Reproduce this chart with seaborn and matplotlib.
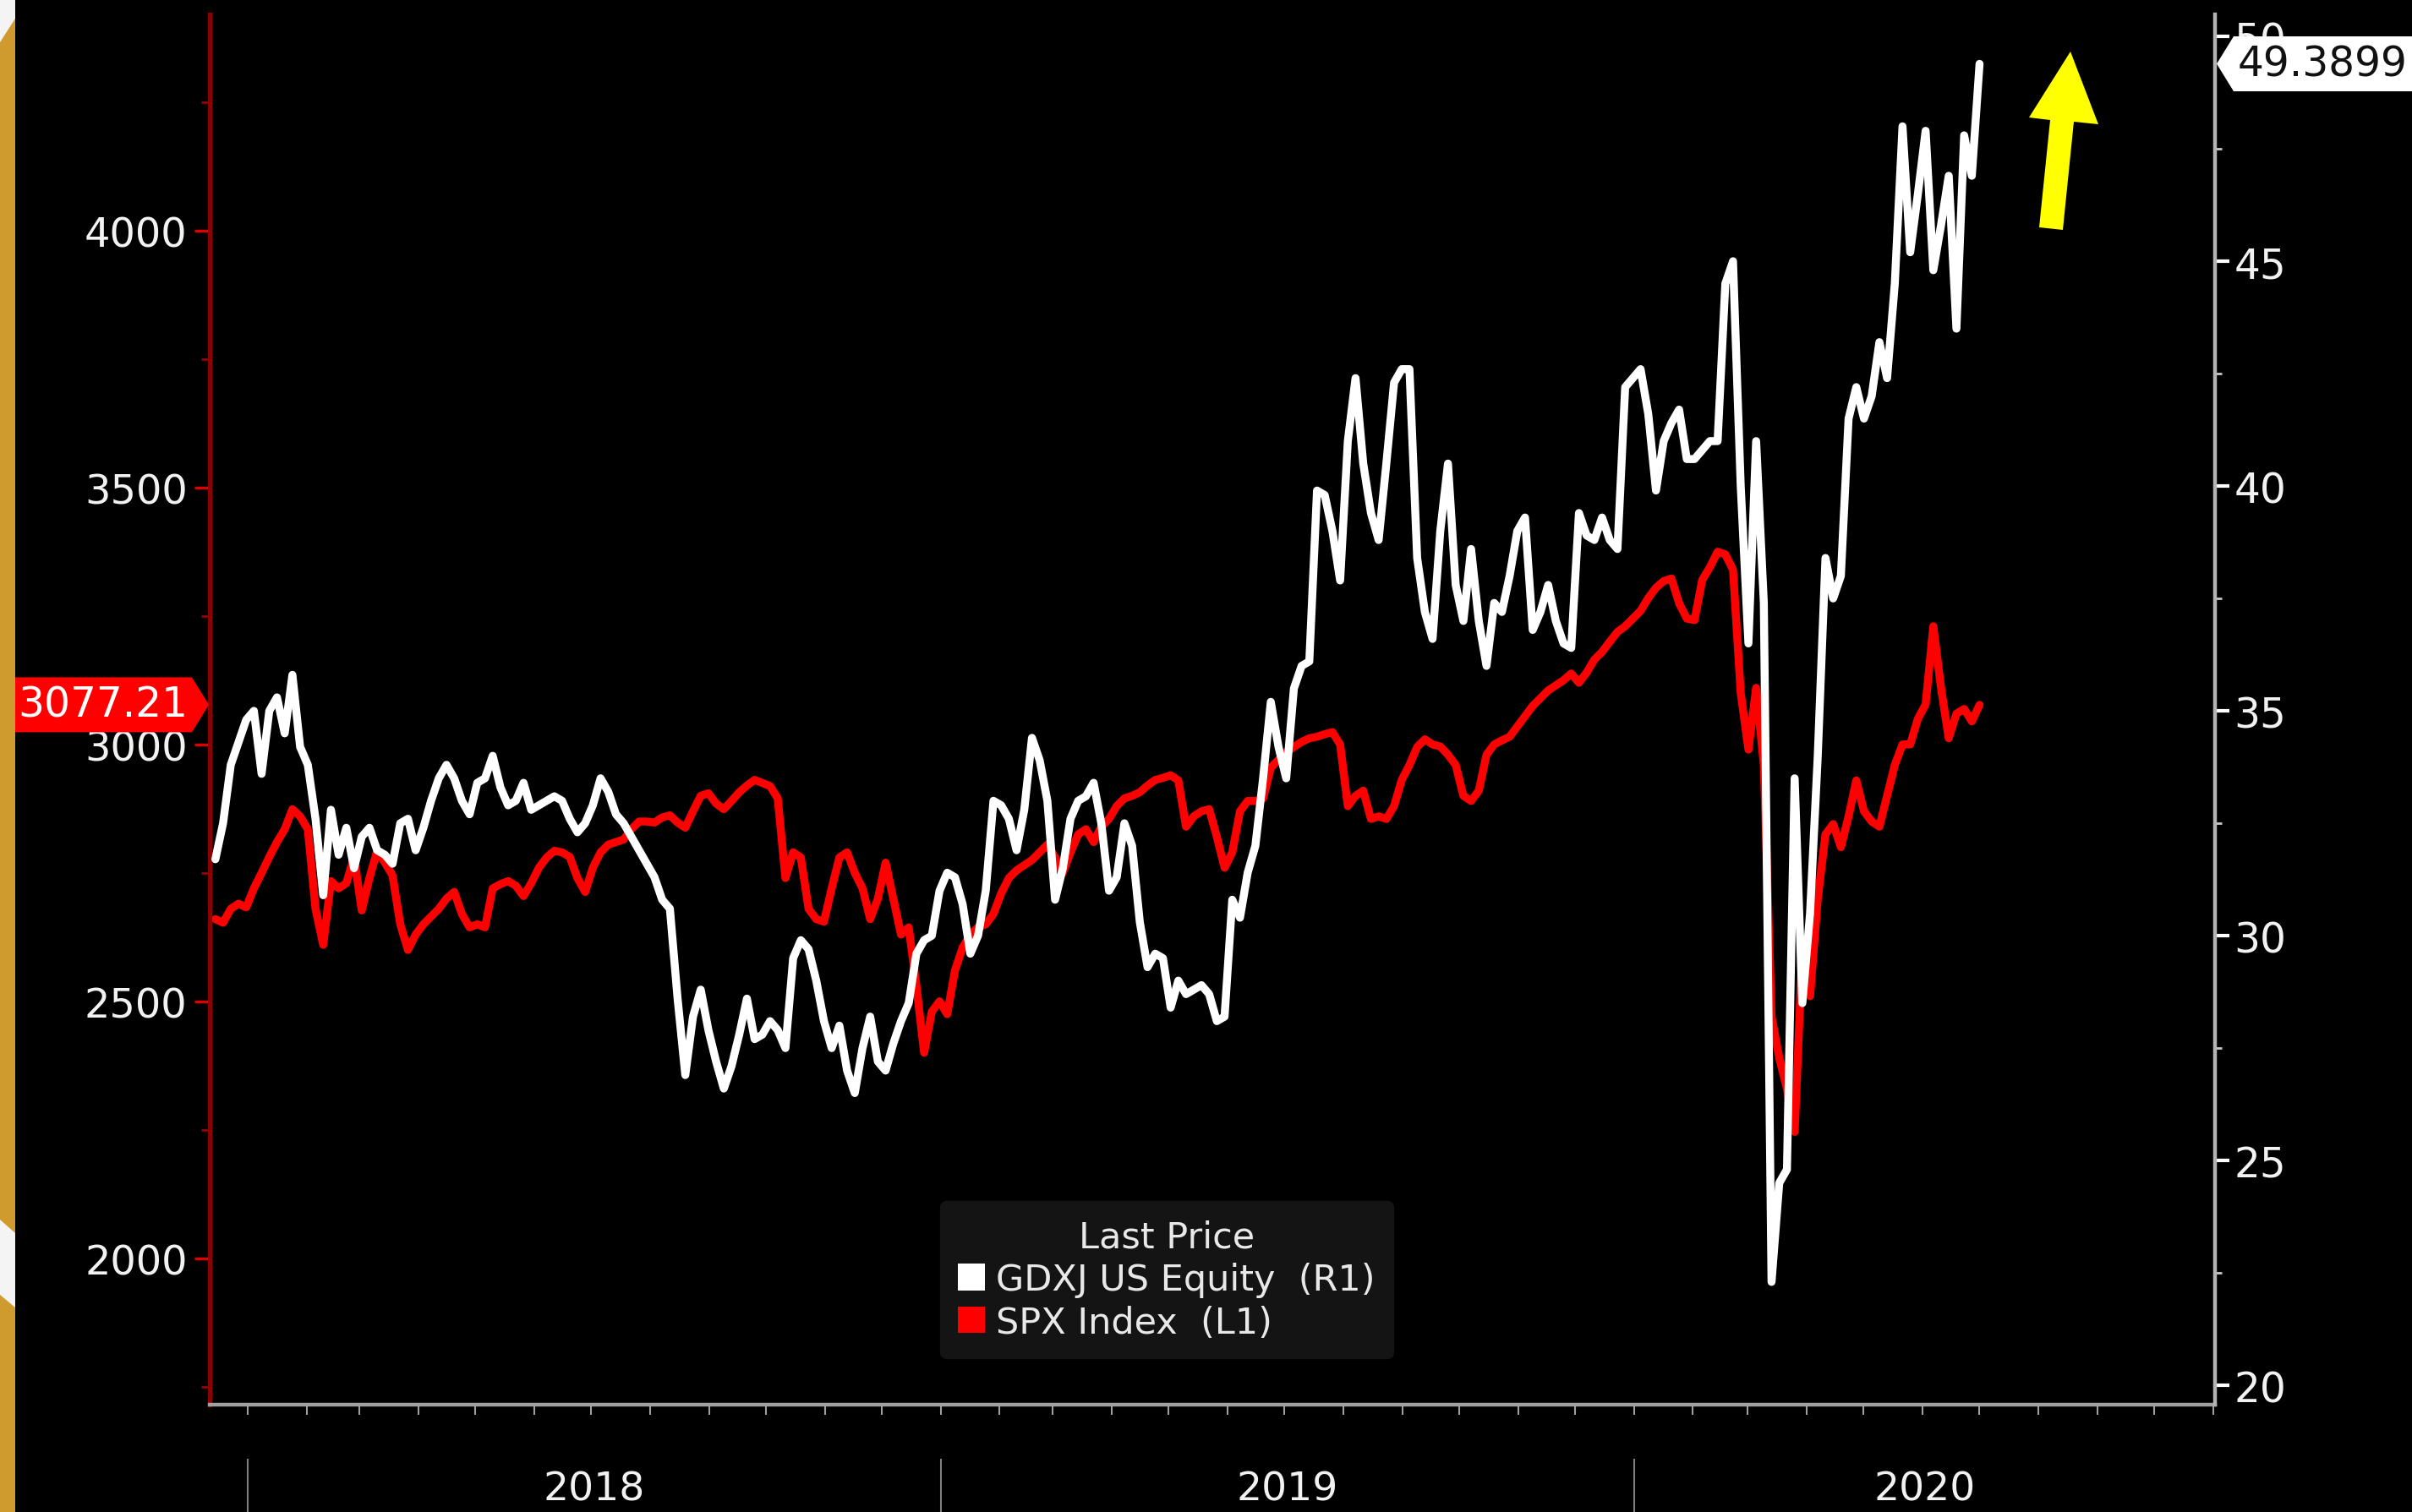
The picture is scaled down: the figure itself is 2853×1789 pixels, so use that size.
import numpy as np
import pandas as pd
import matplotlib
matplotlib.use("Agg")
import matplotlib.pyplot as plt
import matplotlib.dates as mdates
import matplotlib.ticker as mticker
import matplotlib.transforms as mtransforms
from matplotlib.patches import Polygon, Rectangle, Patch
from matplotlib.lines import Line2D
import seaborn as sns

# ---------------- data ----------------
start_date = "2017-12-15"
end_date = "2020-07-01"

gdxj = [
    31.7, 32.5, 33.8, 34.3, 34.8, 35.0, 33.6, 35.0, 35.3, 34.5,
    35.8, 34.2, 33.8, 32.6, 30.9, 32.8, 31.8, 32.4, 31.5, 32.2,
    32.4, 31.9, 31.8, 31.6, 32.5, 32.6, 31.9, 32.4, 33.0, 33.5,
    33.8, 33.5, 33.0, 32.7, 33.4, 33.5, 34.0, 33.3, 32.9, 33.0,
    33.4, 32.8, 32.9, 33.0, 33.1, 33.0, 32.6, 32.3, 32.5, 32.9,
    33.5, 33.2, 32.7, 32.5, 32.2, 31.9, 31.6, 31.3, 30.8, 30.6,
    28.6, 26.9, 28.2, 28.8, 27.9, 27.2, 26.6, 27.1, 27.8, 28.6,
    27.7, 27.8, 28.1, 27.9, 27.5, 29.5, 29.9, 29.7, 29.0, 28.1,
    27.5, 28.0, 27.0, 26.5, 27.5, 28.2, 27.2, 27.0, 27.6, 28.1,
    28.5, 29.6, 29.9, 30.0, 31.0, 31.4, 31.3, 30.7, 29.6, 30.0,
    31.0, 33.0, 32.9, 32.6, 31.9, 32.8, 34.4, 33.9, 33.0, 30.8,
    31.5, 32.6, 33.0, 33.1, 33.4, 32.5, 31.0, 31.3, 32.5, 32.0,
    30.3, 29.3, 29.6, 29.5, 28.4, 29.0, 28.7, 28.8, 28.9, 28.7,
    28.1, 28.2, 30.8, 30.4, 31.4, 32.0, 33.5, 35.2, 34.2, 33.5,
    35.5, 36.0, 36.1, 39.9, 39.8, 39.0, 37.9, 41.0, 42.4, 40.5,
    39.4, 38.8, 40.5, 42.3, 42.6, 42.6, 38.4, 37.2, 36.6, 39.0,
    40.5, 37.8, 37.0, 38.6, 37.0, 36.0, 37.4, 37.2, 38.0, 39.0,
    39.3, 36.8, 37.2, 37.8, 37.0, 36.5, 36.4, 39.4, 38.9, 38.8,
    39.3, 38.8, 38.6, 42.2, 42.4, 42.6, 41.6, 39.9, 41.0, 41.4,
    41.7, 40.6, 40.6, 40.8, 41.0, 41.0, 44.5, 45.0, 40.0, 36.5,
    41.0, 37.4, 22.3, 24.5, 24.8, 33.5, 28.5, 30.5, 34.0, 38.4,
    37.5, 38.0, 41.5, 42.2, 41.5, 42.0, 43.2, 42.4, 44.5, 48.0,
    45.2, 46.5, 47.9, 44.8, 45.8, 46.9, 43.5, 47.8, 46.9, 49.39,
]

spx = [
    2660, 2653, 2680, 2690, 2683, 2720, 2750, 2781, 2810, 2835,
    2874, 2860, 2835, 2680, 2610, 2734, 2720, 2730, 2781, 2677,
    2740, 2793, 2770, 2745, 2650, 2600, 2630, 2650, 2665, 2680,
    2700, 2713, 2670, 2644, 2650, 2644, 2720, 2728, 2734, 2725,
    2705, 2730, 2760, 2780, 2793, 2790, 2781, 2740, 2713, 2760,
    2790, 2805, 2810, 2815, 2835, 2850, 2850, 2848, 2858, 2862,
    2848, 2838, 2870, 2900, 2905, 2885, 2874, 2890, 2907, 2920,
    2931, 2925, 2919, 2895, 2740, 2790, 2780, 2680, 2660, 2655,
    2720, 2780, 2790, 2750, 2720, 2660, 2700, 2770, 2700, 2630,
    2644, 2530, 2400, 2480, 2500, 2475, 2560, 2605, 2630, 2644,
    2650, 2670, 2710, 2740, 2755, 2765, 2775, 2790, 2805, 2780,
    2750, 2790, 2825, 2835, 2810, 2840, 2855, 2880, 2895, 2900,
    2907, 2920, 2931, 2935, 2940, 2930, 2840, 2860, 2870, 2874,
    2820, 2760, 2790, 2870, 2890, 2890, 2895, 2955, 2970, 2985,
    2995, 3005, 3012, 3015, 3020, 3024, 3000, 2880, 2900, 2910,
    2855, 2860, 2855, 2880, 2931, 2960, 2995, 3010, 3000, 2996,
    2980, 2960, 2900, 2890, 2910, 2980, 3000, 3008, 3015, 3035,
    3055, 3075, 3090, 3105, 3115, 3125, 3138, 3120, 3140, 3165,
    3180, 3200, 3219, 3230, 3245, 3260, 3285, 3305, 3318, 3323,
    3275, 3245, 3242, 3320, 3345, 3375, 3370, 3340, 3100, 2990,
    3110, 2960, 2470, 2390, 2330, 2246, 2600, 2510, 2700, 2825,
    2845, 2800, 2860, 2930, 2870, 2850, 2840, 2900, 2960, 3000,
    3000, 3050, 3078, 3230, 3110, 3012, 3060, 3069, 3045, 3077,
]

spx_last_label = "3077.21"
gdxj_last_label = "49.3899"
left_ticks = [2000, 2500, 3000, 3500, 4000]
right_ticks = [20, 25, 30, 35, 40, 45, 50]
year_labels = ["2018", "2019", "2020"]
legend_title = "Last Price"
legend_labels = ["GDXJ US Equity  (R1)", "SPX Index  (L1)"]

x_start = "2017-12-12"
x_end = "2020-11-02"
left_ylim = (1715, 4421)
right_ylim = (19.57, 50.49)

dates = pd.date_range(start_date, end_date, periods=len(spx))
df = pd.DataFrame({"date": dates, "SPX": spx, "GDXJ": gdxj})

# ---------------- figure ----------------
W, H, DPI = 2853, 1790, 100
plt.rcParams["font.family"] = ["DejaVu Sans"]
fig = plt.figure(figsize=(W / DPI, H / DPI), dpi=DPI, facecolor="black")


def fx(px):
    return px / W


def fy(py):
    return 1 - py / H


ax = fig.add_axes([fx(248), fy(1663), fx(2620) - fx(248), fy(18) - fy(1663)])
ax.set_facecolor("black")
ax2 = ax.twinx()

sns.lineplot(data=df, x="date", y="SPX", ax=ax, color="#ff0000", lw=6.8,
             solid_joinstyle="round", solid_capstyle="round")
sns.lineplot(data=df, x="date", y="GDXJ", ax=ax2, color="#ffffff", lw=6.8,
             solid_joinstyle="round", solid_capstyle="round")

ax.set_xlim(pd.Timestamp(x_start), pd.Timestamp(x_end))
ax.set_ylim(*left_ylim)
ax2.set_ylim(*right_ylim)
ax.set_xlabel("")
ax.set_ylabel("")
ax2.set_ylabel("")

# spines
for a in (ax, ax2):
    a.spines["top"].set_visible(False)
ax.spines["right"].set_visible(False)
ax2.spines["left"].set_visible(False)
ax2.spines["bottom"].set_visible(False)
ax.spines["left"].set_color("#8c0000")
ax.spines["left"].set_linewidth(3.6)
ax.spines["bottom"].set_color("#a0a0a0")
ax.spines["bottom"].set_linewidth(3.2)
ax2.spines["right"].set_color("#b4b4b4")
ax2.spines["right"].set_linewidth(3.2)

# x ticks: monthly, no labels
ax.xaxis.set_major_locator(mdates.MonthLocator())
ax.xaxis.set_major_formatter(mticker.NullFormatter())
ax.tick_params(axis="x", which="major", direction="out", length=8.6,
               width=1.5, color="#a0a0a0", labelbottom=False)

# left y
ax.set_yticks(left_ticks)
ax.yaxis.set_minor_locator(mticker.MultipleLocator(250))
ax.tick_params(axis="y", which="major", direction="out", length=13, width=2.5,
               color="#dd0000", labelcolor="#f2f2f2", labelsize=34.5, pad=6)
ax.tick_params(axis="y", which="minor", direction="out", length=7, width=2,
               color="#990000")

# right y
ax2.set_yticks(right_ticks)
ax2.yaxis.set_minor_locator(mticker.MultipleLocator(2.5))
ax2.tick_params(axis="y", which="major", direction="out", length=12, width=3,
                color="#ffffff", labelcolor="#f2f2f2", labelsize=35, pad=4)
ax2.tick_params(axis="y", which="minor", direction="out", length=6, width=2,
                color="#c8c8c8")

# year separators and labels below the axis
trans = mtransforms.blended_transform_factory(ax.transData, fig.transFigure)
xlim_right = ax.get_xlim()[1]
for yl in year_labels:
    y0 = mdates.date2num(pd.Timestamp(f"{yl}-01-01"))
    y1 = min(mdates.date2num(pd.Timestamp(f"{int(yl) + 1}-01-01")), xlim_right)
    fig.add_artist(Line2D([y0, y0], [fy(1728), fy(1790)], transform=trans,
                          color="#808080", lw=1.5))
    fig.text((y0 + y1) / 2, fy(1763), yl, transform=trans, ha="center",
             va="center", color="#f2f2f2", fontsize=34)

# legend
handles = [Patch(facecolor="#ffffff", edgecolor="none"),
           Patch(facecolor="#ff0000", edgecolor="none")]
leg = ax2.legend(handles, legend_labels, title=legend_title, loc="center",
                 bbox_to_anchor=(fx(1380), fy(1515)),
                 bbox_transform=fig.transFigure, frameon=True,
                 facecolor="#141414", edgecolor="#141414", framealpha=1,
                 fontsize=31, title_fontsize=31, labelcolor="#e8e8e8",
                 handlelength=0.75, handleheight=0.75, handletextpad=0.3,
                 labelspacing=0.2, borderpad=0.5, borderaxespad=0)
leg.get_title().set_color("#e8e8e8")


# last value labels
def data_to_fig_y(axis, value):
    x0 = axis.get_xlim()[0]
    _, ypx = axis.transData.transform((x0, value))
    return ypx / (fig.dpi * fig.get_figheight())


hh = 32.5 / H
ys = data_to_fig_y(ax, float(spx_last_label))
fig.add_artist(Polygon([(fx(18), ys + hh), (fx(227), ys + hh), (fx(247), ys),
                        (fx(227), ys - hh), (fx(18), ys - hh)],
                       closed=True, transform=fig.transFigure,
                       facecolor="#ff0000", edgecolor="none", zorder=10))
fig.text(fx(122), ys, spx_last_label, ha="center", va="center",
         color="#ffffff", fontsize=35, zorder=11)

yr = data_to_fig_y(ax2, float(gdxj_last_label))
fig.add_artist(Polygon([(fx(2622), yr), (fx(2642), yr + hh),
                        (fx(2853), yr + hh), (fx(2853), yr - hh),
                        (fx(2642), yr - hh)],
                       closed=True, transform=fig.transFigure,
                       facecolor="#ffffff", edgecolor="none", zorder=10))
fig.text(fx(2747), yr, gdxj_last_label, ha="center", va="center",
         color="#111111", fontsize=35, zorder=11)

# yellow arrow
arrow_px = [(2449, 62), (2482, 148), (2453, 145), (2440, 273), (2412, 270),
            (2425, 143), (2400, 140)]
fig.add_artist(Polygon([(fx(a), fy(b)) for a, b in arrow_px], closed=True,
                       transform=fig.transFigure, facecolor="#ffff00",
                       edgecolor="none", zorder=12))

# left decorative strip
fig.add_artist(Rectangle((0, 0), fx(18), 1, transform=fig.transFigure,
                         facecolor="#cf9a2e", edgecolor="none", zorder=20))
fig.add_artist(Polygon([(0, 1), (fx(18), 1), (fx(18), fy(23)), (0, fy(51))],
                       closed=True, transform=fig.transFigure,
                       facecolor="#f4f4f4", edgecolor="none", zorder=21))
fig.add_artist(Polygon([(0, fy(1444)), (fx(18), fy(1460)), (fx(18), fy(1548)),
                        (0, fy(1533))],
                       closed=True, transform=fig.transFigure,
                       facecolor="#f4f4f4", edgecolor="none", zorder=21))

fig.savefig("out.png", dpi=DPI, facecolor="black")
